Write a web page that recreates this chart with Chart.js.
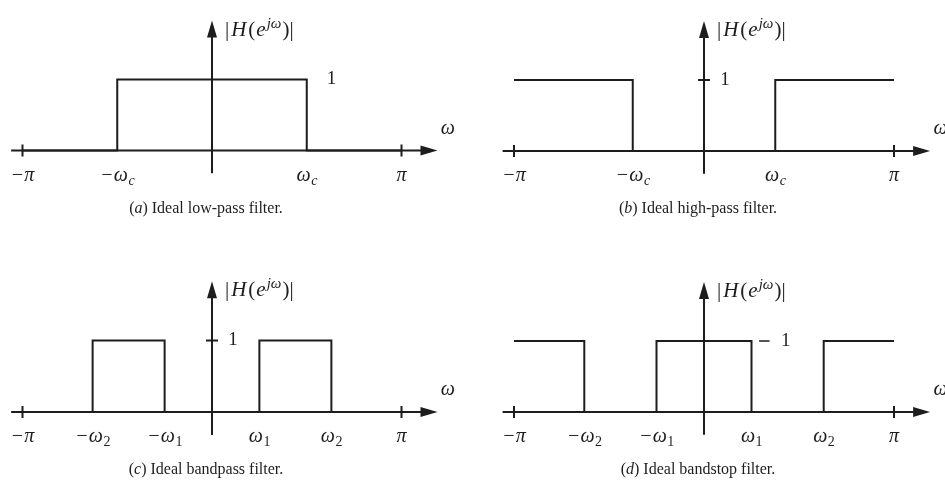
<!DOCTYPE html>
<html>
<head>
<meta charset="utf-8">
<script src="https://cdn.jsdelivr.net/npm/chart.js@4.4.0/dist/chart.umd.min.js"></script>
<style>
  html, body { margin: 0; padding: 0; background: #fff; width: 945px; height: 481px; overflow: hidden; }
  canvas { position: absolute; }
</style>
</head>
<body>
<canvas id="lowpass" width="472" height="240" style="left:0;top:0"></canvas>
<canvas id="highpass" width="473" height="240" style="left:472px;top:0"></canvas>
<canvas id="bandpass" width="472" height="241" style="left:0;top:240px"></canvas>
<canvas id="bandstop" width="473" height="241" style="left:472px;top:240px"></canvas>
<script>
// frequencies are in units of pi, magnitudes are |H|
const lowpassW = [-1, -0.5, -0.5, 0.5, 0.5, 1];
const lowpassH = [0, 0, 1, 1, 0, 0];
const lowpassTicks = [-1, -0.5, 0.5, 1];
const lowpassLabels = ["−π", "−ω_c", "ω_c", "π"];

const highpassW = [-1, -0.375, -0.375, 0.375, 0.375, 1];
const highpassH = [1, 1, 0, 0, 1, 1];
const highpassTicks = [-1, -0.375, 0.375, 1];
const highpassLabels = ["−π", "−ω_c", "ω_c", "π"];

const bandpassW = [-1, -0.63, -0.63, -0.25, -0.25, 0.25, 0.25, 0.63, 0.63, 1];
const bandpassH = [0, 0, 1, 1, 0, 0, 1, 1, 0, 0];
const bandpassTicks = [-1, -0.63, -0.25, 0.25, 0.63, 1];
const bandpassLabels = ["−π", "−ω_2", "−ω_1", "ω_1", "ω_2", "π"];

const bandstopW = [-1, -0.63, -0.63, -0.25, -0.25, 0.25, 0.25, 0.63, 0.63, 1];
const bandstopH = [1, 1, 0, 0, 1, 1, 0, 0, 1, 1];
const bandstopTicks = [-1, -0.63, -0.25, 0.25, 0.63, 1];
const bandstopLabels = ["−π", "−ω_2", "−ω_1", "ω_1", "ω_2", "π"];

const INK = "#1d1d1d";
const SERIF = "'Liberation Serif', 'DejaVu Serif', serif";

// ----------------- TEXT HELPERS -----------------
function drawMath(ctx, text, x, y, size) {
  // "ω_c" -> ω with subscript c, centred on x
  const [main, sub] = text.split("_");
  ctx.font = "italic " + size + "px " + SERIF;
  const wMain = ctx.measureText(main).width;
  let wSub = 0, subFont = "";
  if (sub) {
    subFont = (/\d/.test(sub) ? "" : "italic ") + Math.round(size * 0.72) + "px " + SERIF;
    ctx.font = subFont;
    wSub = ctx.measureText(sub).width;
  }
  let left = x - (wMain + wSub) / 2;
  ctx.textAlign = "left";
  ctx.textBaseline = "middle";
  ctx.font = "italic " + size + "px " + SERIF;
  ctx.fillText(main, left, y);
  if (sub) {
    ctx.font = subFont;
    ctx.fillText(sub, left + wMain + 0.5, y + size * 0.28);
  }
}

function drawRuns(ctx, runs, x, y, align) {
  let total = 0;
  runs.forEach(r => { ctx.font = r.font; total += ctx.measureText(r.t).width + (r.gap || 0); });
  let cx = align === "center" ? x - total / 2 : x;
  ctx.textAlign = "left";
  ctx.textBaseline = "alphabetic";
  runs.forEach(r => {
    ctx.font = r.font;
    ctx.fillText(r.t, cx, y + (r.dy || 0));
    cx += ctx.measureText(r.t).width + (r.gap || 0);
  });
}

// ----------------- AXES / LABELS PLUGIN -----------------
const filterDecor = {
  id: "filterDecor",
  beforeDatasetsDraw(chart, args, o) {
    const ctx = chart.ctx;
    const X = v => chart.scales.x.getPixelForValue(v);
    const Y = v => chart.scales.y.getPixelForValue(v);
    const x0 = X(0), y0 = Y(0);
    ctx.save();
    ctx.strokeStyle = INK;
    ctx.fillStyle = INK;
    ctx.lineWidth = 2;

    // horizontal axis + arrow
    const xl = X(-1.06), xr = X(1.19);
    ctx.beginPath(); ctx.moveTo(xl, y0); ctx.lineTo(xr - 10, y0); ctx.stroke();
    ctx.beginPath(); ctx.moveTo(xr, y0); ctx.lineTo(xr - 17, y0 - 5); ctx.lineTo(xr - 17, y0 + 5); ctx.closePath(); ctx.fill();

    // vertical axis + arrow
    const yb = Y(-0.32), yt = Y(1.83);
    ctx.beginPath(); ctx.moveTo(x0, yb); ctx.lineTo(x0, yt + 10); ctx.stroke();
    ctx.beginPath(); ctx.moveTo(x0, yt); ctx.lineTo(x0 - 5, yt + 17); ctx.lineTo(x0 + 5, yt + 17); ctx.closePath(); ctx.fill();

    // ticks at +/- pi
    [-1, 1].forEach(v => {
      ctx.beginPath(); ctx.moveTo(X(v), y0 - 6); ctx.lineTo(X(v), y0 + 6); ctx.stroke();
    });
    if (o.unit === "tick") {
      ctx.beginPath(); ctx.moveTo(x0 - 6, Y(1)); ctx.lineTo(x0 + 6, Y(1)); ctx.stroke();
    }
    ctx.restore();
  },
  afterDatasetsDraw(chart, args, o) {
    const ctx = chart.ctx;
    const X = v => chart.scales.x.getPixelForValue(v);
    const Y = v => chart.scales.y.getPixelForValue(v);
    const x0 = X(0), y0 = Y(0);
    ctx.save();
    ctx.fillStyle = INK;
    ctx.strokeStyle = INK;

    // tick labels
    o.ticks.forEach((v, i) => drawMath(ctx, o.labels[i], X(v), y0 + 25, 20));

    // omega axis name
    drawMath(ctx, "ω", X(1.245), y0 - 22, 20);

    // |H(e^jw)|
    const up = "21px " + SERIF, it = "italic 21px " + SERIF, sup = "italic 15px " + SERIF;
    drawRuns(ctx, [
      { t: "|", font: up, gap: 2 },
      { t: "H", font: it, gap: 2 },
      { t: "(", font: up, gap: 1 },
      { t: "e", font: it, gap: 1 },
      { t: "jω", font: sup, dy: -8, gap: 1 },
      { t: ")|", font: up }
    ], x0 + 13, Y(1.83) + 15, "left");

    // the "1" level mark
    ctx.font = "19px " + SERIF;
    ctx.textBaseline = "middle";
    ctx.textAlign = "center";
    if (o.unit === "free") {
      ctx.fillText("1", X(o.unitAt), Y(1));
    } else if (o.unit === "tick") {
      ctx.fillText("1", x0 + 21, Y(1));
    } else if (o.unit === "dash") {
      ctx.lineWidth = 1.5;
      ctx.beginPath(); ctx.moveTo(X(o.dashFrom), Y(1)); ctx.lineTo(X(o.dashTo), Y(1)); ctx.stroke();
      ctx.fillText("1", X(o.unitAt), Y(1));
    }

    // caption
    drawRuns(ctx, [
      { t: "(", font: "16px " + SERIF },
      { t: o.letter, font: "italic 16px " + SERIF },
      { t: ") " + o.caption, font: "16px " + SERIF }
    ], x0 - 6, y0 + 62, "center");
    ctx.restore();
  }
};

// ----------------- BUILD CHARTS -----------------
function makeFilter(id, w, h, ticks, labels, decor, range) {
  const ctx = document.getElementById(id).getContext("2d");
  return new Chart(ctx, {
    type: "line",
    data: {
      datasets: [{
        data: w.map((x, i) => ({ x: x, y: h[i] })),
        borderColor: INK,
        borderWidth: 2,
        pointRadius: 0,
        tension: 0,
        fill: false,
        clip: false,
      }]
    },
    options: {
      responsive: false,
      animation: false,
      events: [],
      layout: { padding: 0 },
      scales: {
        x: { type: "linear", display: false, min: range.xmin, max: range.xmax },
        y: { type: "linear", display: false, min: range.ymin, max: range.ymax },
      },
      plugins: {
        legend: { display: false },
        tooltip: { enabled: false },
        filterDecor: Object.assign({ ticks: ticks, labels: labels }, decor),
      },
    },
    plugins: [filterDecor],
  });
}

// scale ranges: axis origin at (cx, cy) px, pi = ux px, |H|=1 is uy px
function rangeFor(width, height, cx, cy, ux, uy) {
  return { xmin: -cx / ux, xmax: (width - cx) / ux, ymin: -(height - cy) / uy, ymax: cy / uy };
}

makeFilter("lowpass", lowpassW, lowpassH, lowpassTicks, lowpassLabels,
  { unit: "free", unitAt: 0.63, letter: "a", caption: "Ideal low-pass filter." },
  rangeFor(472, 240, 212, 150.5, 189.5, 71));
makeFilter("highpass", highpassW, highpassH, highpassTicks, highpassLabels,
  { unit: "tick", letter: "b", caption: "Ideal high-pass filter." },
  rangeFor(473, 240, 232, 151, 190, 71));
makeFilter("bandpass", bandpassW, bandpassH, bandpassTicks, bandpassLabels,
  { unit: "tick", letter: "c", caption: "Ideal bandpass filter." },
  rangeFor(472, 241, 212, 172, 189.5, 71.5));
makeFilter("bandstop", bandstopW, bandstopH, bandstopTicks, bandstopLabels,
  { unit: "dash", dashFrom: 0.29, dashTo: 0.345, unitAt: 0.43, letter: "d", caption: "Ideal bandstop filter." },
  rangeFor(473, 241, 232, 172, 190, 71));
</script>
</body>
</html>
